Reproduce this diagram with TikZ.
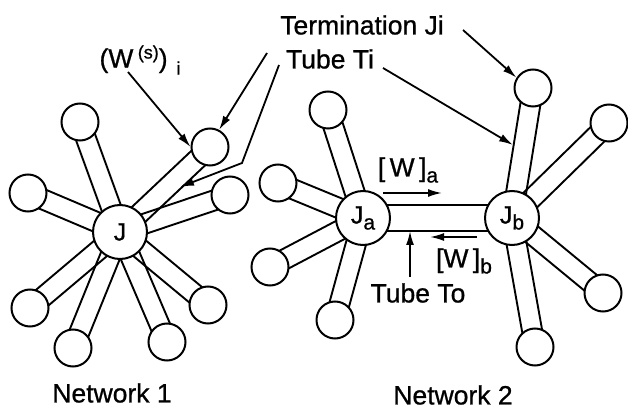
\documentclass[tikz,border=0pt]{standalone}
\usepackage{fontspec}
\setmainfont{Liberation Sans}
\usetikzlibrary{calc,arrows.meta,backgrounds}
\tikzset{
  term/.style={circle,draw,fill=white,minimum size=37pt,inner sep=0pt,line width=2pt},
  junc/.style={circle,draw,fill=white,minimum size=54pt,inner sep=0pt,line width=2pt,
    font=\fontsize{25}{28}\selectfont\addfontfeature{FakeBold=0.8}},
  lbl/.style={font=\fontsize{26.5}{30}\selectfont\addfontfeature{FakeBold=0.8},inner sep=0pt},
  ptr/.style={line width=1.8pt,-{Latex[length=14pt,width=8pt]}},
  tubeline/.style={line width=1.9pt},
}
% a tube: two parallel lines between the centres of two nodes
\newcommand\tube[3]{%
  \draw[tubeline] ($(#1.center)!#3!90:(#2.center)$) -- ($(#2.center)!#3!-90:(#1.center)$);
  \draw[tubeline] ($(#1.center)!#3!-90:(#2.center)$) -- ($(#2.center)!#3!90:(#1.center)$);
}
\newcommand\lowsub[1]{\raisebox{-6pt}{\fontsize{21}{21}\selectfont #1}}
\begin{document}
\begin{tikzpicture}[x=1pt,y=-1pt]
\useasboundingbox (0,0) rectangle (628,411);

% ---------- Network 1 ----------
\node[junc] (J) at (120,232) {J};
\node[term] (n1a) at (80,122) {};
\node[term] (n1b) at (210,147) {};
\node[term] (n1c) at (28,193) {};
\node[term] (n1d) at (230,195) {};
\node[term] (n1e) at (30,308) {};
\node[term] (n1f) at (73,348) {};
\node[term] (n1g) at (167,342) {};
\node[term] (n1h) at (208,305) {};

% ---------- Network 2 ----------
\node[junc] (Ja) at (363,218) {J\lowsub{a}};
\node[junc] (Jb) at (512,218) {J\lowsub{b}};
\node[term] (n2a) at (328,110) {};
\node[term] (n2b) at (278,183) {};
\node[term] (n2c) at (270,267) {};
\node[term] (n2d) at (335,320) {};
\node[term] (n2e) at (533,88) {};
\node[term] (n2f) at (609,123) {};
\node[term] (n2g) at (603,293) {};
\node[term] (n2h) at (535,347) {};

\begin{scope}[on background layer]
  \foreach \t in {n1a,n1b,n1c,n1d,n1e,n1f,n1g,n1h}{\tube{J}{\t}{10pt}}
  \foreach \t in {n2a,n2b,n2c,n2d}{\tube{Ja}{\t}{10pt}}
  \foreach \t in {n2e,n2f,n2g,n2h}{\tube{Jb}{\t}{10pt}}
  \tube{Ja}{Jb}{13pt}
\end{scope}

% ---------- labels ----------
\node[lbl] (ws) at (140,60) {(W\,\raisebox{9pt}{\fontsize{18}{18}\selectfont(s)})\,\,\raisebox{-7pt}{\fontsize{18}{18}\selectfont i}};
\node[lbl] (termJi) at (362,25) {Termination Ji};
\node[lbl] (tubeTi) at (330,59) {Tube Ti};
\node[lbl] (Wa) at (408,170) {[\,W\,]\lowsub{a}};
\node[lbl] (Wb) at (464,261) {[W\,]\lowsub{b}};
\node[lbl] (tubeTo) at (418,293) {Tube To};
\node[lbl] (net1) at (112,393) {Network 1};
\node[lbl] (net2) at (453,395) {Network 2};

% ---------- pointers ----------
\coordinate (wsA) at (128,72);
\draw[ptr] (wsA) -- (n1b.west);

\coordinate (tA) at (267,53);
\draw[ptr] (tA) -- (n1b.62);

\coordinate (tiA) at (279,65);
\coordinate (tiB) at (242,163);
\coordinate (tiT) at (180,187);
\draw[ptr] (tiA) -- (tiB) -- (tiT);

\coordinate (tB) at (463,30);
\draw[ptr] (tB) -- (n2e.148);

\coordinate (tiC) at (383,68);
\coordinate (tiU) at (513,145);
\draw[ptr] (tiC) -- (tiU);

\coordinate (waA) at (383,193);
\coordinate (waB) at (442,193);
\draw[ptr] (waA) -- (waB);

\coordinate (wbA) at (477,237);
\coordinate (wbB) at (430,237);
\draw[ptr] (wbA) -- (wbB);

\coordinate (toA) at (410,277);
\coordinate (toB) at (410,231);
\draw[ptr] (toA) -- (toB);
\end{tikzpicture}
\end{document}
